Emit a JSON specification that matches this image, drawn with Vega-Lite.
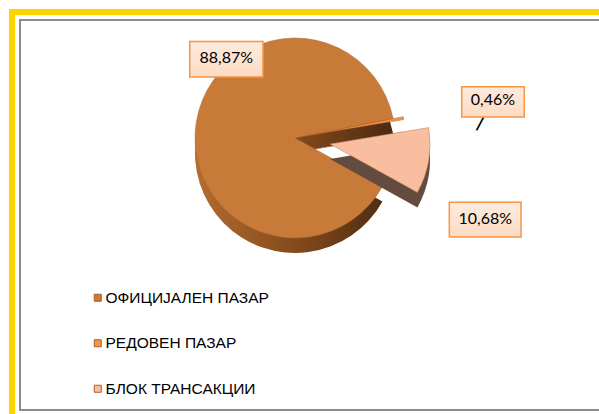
{
  "$schema": "https://vega.github.io/schema/vega-lite/v6.json",
  "width": 640,
  "height": 390,
  "autosize": {"type": "none"},
  "padding": {"left": 20, "top": 20, "right": 0, "bottom": 4},
  "background": "white",
  "data": {"values": [
    {"cat": "ОФИЦИЈАЛЕН ПАЗАР", "value": 88.87, "label": "88,87%", "rank": 1},
    {"cat": "РЕДОВЕН ПАЗАР", "value": 0.46, "label": "0,46%", "rank": 2},
    {"cat": "БЛОК ТРАНСАКЦИИ", "value": 10.68, "label": "10,68%", "rank": 3}
  ]},
  "layer": [
    {"data": {"values": [{}]}, "mark": {"type": "rect", "fillOpacity": 0, "stroke": "#FFD200", "strokeWidth": 22}, "encoding": {}},
    {"data": {"values": [{}]}, "mark": {"type": "rect", "fill": "white", "stroke": "white", "strokeWidth": 10}, "encoding": {}},
    {"data": {"values": [{}]}, "mark": {"type": "rect", "fillOpacity": 0, "stroke": "#8C8C8C", "strokeWidth": 2}, "encoding": {}},
    {
      "mark": {"type": "arc", "radius": 100, "xOffset": -45, "yOffset": -62, "fill": {"gradient": "linear", "x1": 0, "y1": 0, "x2": 1, "y2": 0, "stops": [{"offset": 0, "color": "#B56C30"}, {"offset": 0.6, "color": "#7A4419"}, {"offset": 1, "color": "#4A2A10"}]}},
      "encoding": {
        "theta": {"field": "value", "type": "quantitative", "stack": true, "scale": {"range": [2.0769, 8.3601]}},
        "order": {"field": "rank"},
        "detail": {"field": "cat"},
        "opacity": {"condition": {"test": "datum.rank === 1", "value": 1}, "value": 0}
      }
    },
    {
      "mark": {"type": "arc", "radius": 100, "xOffset": -45, "yOffset": -77, "stroke": "#B0692E", "strokeWidth": 0.5},
      "encoding": {
        "theta": {"field": "value", "type": "quantitative", "stack": true, "scale": {"range": [2.0769, 8.3601]}},
        "order": {"field": "rank"},
        "color": {"field": "cat", "type": "nominal", "scale": {"domain": ["ОФИЦИЈАЛЕН ПАЗАР", "РЕДОВЕН ПАЗАР", "БЛОК ТРАНСАКЦИИ"], "range": ["#C87A38", "#F59446", "#F9BE9F"]}, "legend": {"title": null}},
        "opacity": {"condition": {"test": "datum.rank === 1", "value": 1}, "value": 0}
      }
    },
    {
      "mark": {"type": "arc", "radius": 100, "xOffset": -35, "yOffset": -64, "fill": "#8E5222"},
      "encoding": {
        "theta": {"field": "value", "type": "quantitative", "stack": true, "scale": {"range": [2.0769, 8.3601]}},
        "order": {"field": "rank"},
        "detail": {"field": "cat"},
        "opacity": {"condition": {"test": "datum.rank === 2", "value": 1}, "value": 0}
      }
    },
    {
      "mark": {"type": "arc", "radius": 100, "xOffset": -35, "yOffset": -79, "stroke": "#A8602A", "strokeWidth": 0.5},
      "encoding": {
        "theta": {"field": "value", "type": "quantitative", "stack": true, "scale": {"range": [2.0769, 8.3601]}},
        "order": {"field": "rank"},
        "color": {"field": "cat", "type": "nominal"},
        "opacity": {"condition": {"test": "datum.rank === 2", "value": 1}, "value": 0}
      }
    },
    {
      "mark": {"type": "arc", "radius": 100, "xOffset": -10, "yOffset": -56, "fill": "#634B3E"},
      "encoding": {
        "theta": {"field": "value", "type": "quantitative", "stack": true, "scale": {"range": [2.0769, 8.3601]}},
        "order": {"field": "rank"},
        "detail": {"field": "cat"},
        "opacity": {"condition": {"test": "datum.rank === 3", "value": 1}, "value": 0}
      }
    },
    {
      "mark": {"type": "arc", "radius": 100, "xOffset": -10, "yOffset": -71, "stroke": "#B87A55", "strokeWidth": 0.5},
      "encoding": {
        "theta": {"field": "value", "type": "quantitative", "stack": true, "scale": {"range": [2.0769, 8.3601]}},
        "order": {"field": "rank"},
        "color": {"field": "cat", "type": "nominal"},
        "opacity": {"condition": {"test": "datum.rank === 3", "value": 1}, "value": 0}
      }
    },
    {
      "mark": {"type": "text", "radius": 170, "xOffset": -45, "yOffset": -77, "dx": 23.2, "dy": 4.8, "angle": 28, "font": "DejaVu Sans", "fontWeight": "bold", "fontSize": 15, "color": "black"},
      "encoding": {
        "theta": {"field": "value", "type": "quantitative", "stack": true, "scale": {"range": [2.0769, 8.3601]}},
        "order": {"field": "rank"},
        "detail": {"field": "cat"},
        "text": {"condition": {"test": "datum.rank === 2", "value": "|"}, "value": ""}
      }
    },
    {
      "mark": {"type": "text", "radius": 110, "xOffset": -45, "yOffset": -77, "dx": 40, "dy": -66, "font": "DejaVu Sans", "fontSize": 96, "fill": {"gradient": "linear", "x1": 0, "y1": 0, "x2": 0, "y2": 1, "stops": [{"offset": 0, "color": "#FFFFFF"}, {"offset": 1, "color": "#FBCFAE"}]}, "stroke": "#F79646", "strokeWidth": 1.5},
      "encoding": {
        "theta": {"field": "value", "type": "quantitative", "stack": true, "scale": {"range": [2.0769, 8.3601]}},
        "order": {"field": "rank"},
        "detail": {"field": "cat"},
        "text": {"condition": {"test": "datum.rank === 1", "value": "▬"}, "value": ""}
      }
    },
    {
      "mark": {"type": "text", "radius": 190, "xOffset": -45, "yOffset": -77, "dx": 11, "dy": -6.5, "font": "DejaVu Sans", "fontSize": 82, "fill": {"gradient": "linear", "x1": 0, "y1": 0, "x2": 0, "y2": 1, "stops": [{"offset": 0, "color": "#FFFFFF"}, {"offset": 1, "color": "#FBCFAE"}]}, "stroke": "#F79646", "strokeWidth": 1.5},
      "encoding": {
        "theta": {"field": "value", "type": "quantitative", "stack": true, "scale": {"range": [2.0769, 8.3601]}},
        "order": {"field": "rank"},
        "detail": {"field": "cat"},
        "text": {"condition": {"test": "datum.rank === 2", "value": "▬"}, "value": ""}
      }
    },
    {
      "mark": {"type": "text", "radius": 185, "xOffset": -45, "yOffset": -77, "dx": 8, "dy": 47, "font": "DejaVu Sans", "fontSize": 94, "fill": {"gradient": "linear", "x1": 0, "y1": 0, "x2": 0, "y2": 1, "stops": [{"offset": 0, "color": "#FFFFFF"}, {"offset": 1, "color": "#FBCFAE"}]}, "stroke": "#F79646", "strokeWidth": 1.5},
      "encoding": {
        "theta": {"field": "value", "type": "quantitative", "stack": true, "scale": {"range": [2.0769, 8.3601]}},
        "order": {"field": "rank"},
        "detail": {"field": "cat"},
        "text": {"condition": {"test": "datum.rank === 3", "value": "▬"}, "value": ""}
      }
    },
    {
      "mark": {"type": "text", "radius": 110, "xOffset": -45, "yOffset": -77, "dx": 40, "dy": -63, "font": "Lato", "fontSize": 16, "color": "black"},
      "encoding": {
        "theta": {"field": "value", "type": "quantitative", "stack": true, "scale": {"range": [2.0769, 8.3601]}},
        "order": {"field": "rank"},
        "detail": {"field": "cat"},
        "text": {"condition": {"test": "datum.rank === 1", "field": "label"}, "value": ""}
      }
    },
    {
      "mark": {"type": "text", "radius": 190, "xOffset": -45, "yOffset": -77, "dx": 11, "dy": -4, "font": "Lato", "fontSize": 16, "color": "black"},
      "encoding": {
        "theta": {"field": "value", "type": "quantitative", "stack": true, "scale": {"range": [2.0769, 8.3601]}},
        "order": {"field": "rank"},
        "detail": {"field": "cat"},
        "text": {"condition": {"test": "datum.rank === 2", "field": "label"}, "value": ""}
      }
    },
    {
      "mark": {"type": "text", "radius": 185, "xOffset": -45, "yOffset": -77, "dx": 8, "dy": 50, "font": "Lato", "fontSize": 16, "color": "black"},
      "encoding": {
        "theta": {"field": "value", "type": "quantitative", "stack": true, "scale": {"range": [2.0769, 8.3601]}},
        "order": {"field": "rank"},
        "detail": {"field": "cat"},
        "text": {"condition": {"test": "datum.rank === 3", "field": "label"}, "value": ""}
      }
    }
  ],
  "resolve": {"scale": {"theta": "shared"}},
  "config": {
    "view": {"stroke": null},
    "legend": {
      "orient": "none", "legendX": 70, "legendY": 270, "padding": 0,
      "symbolType": "square", "symbolSize": 49, "symbolStrokeColor": "#A5612A", "symbolStrokeWidth": 1, "symbolOpacity": 1,
      "labelFont": "Liberation Sans", "labelFontSize": 15.5, "labelColor": "#000000", "labelOffset": 0, "labelLimit": 400, "rowPadding": 28.5
    }
  }
}
